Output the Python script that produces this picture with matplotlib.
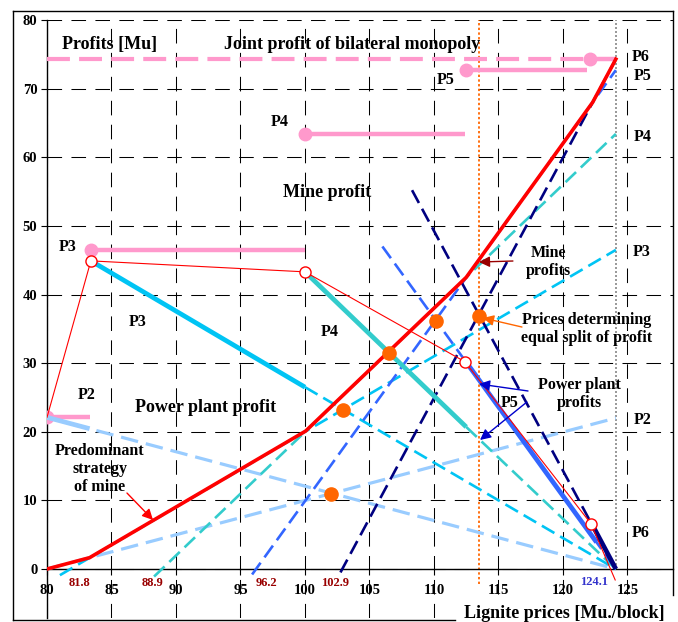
import matplotlib
matplotlib.use("Agg")
import matplotlib.pyplot as plt
from matplotlib.lines import Line2D

plt.rcParams['font.family'] = ['Liberation Serif', 'DejaVu Serif']
plt.rcParams['font.weight'] = 'bold'

# --- data -------------------------------------------------------------
strategies = ['P2', 'P3', 'P4', 'P5', 'P6']
colors = ['#99ccff', '#00c4f4', '#33cccc', '#3366ff', '#000080']

# mine profit lines (rising, dashed)
mine_x0 = [80.0, 81.0, 88.3, 95.9, 102.75]
mine_y0 = [0.0, -0.9, -1.1, -0.8, -0.5]
mine_x1 = [124.1, 124.1, 124.1, 124.1, 124.1]
mine_y1 = [22.0, 46.5, 63.4, 72.7, 74.3]

# power plant profit lines (falling, dashed)
pp_x0 = [80.0, 100.0, 112.5, 106.0, 108.3]
pp_y0 = [22.1, 26.5, 20.7, 47.0, 55.2]
pp_x1 = [124.1, 124.1, 124.1, 124.1, 124.1]
pp_y1 = [0.0, 0.0, 0.0, 0.0, 0.0]

# part of power plant line where the strategy is played (solid)
act_x0 = [80.0, 83.4, 100.0, 112.4, 122.2]
act_y0 = [22.1, 44.9, 43.3, 30.4, 6.7]
act_x1 = [83.3, 100.0, 112.5, 122.6, 124.1]
act_y1 = [20.45, 26.5, 20.7, 3.9, 0.0]

# strategy bands of mine (pink)
band_x0 = [80.0, 83.4, 100.0, 112.5, 122.1]
band_x1 = [83.3, 100.0, 112.4, 121.9, 124.1]
band_y = [22.1, 46.5, 63.4, 72.7, 74.3]
joint_profit = 74.3

# predominant strategy of mine (upper envelope)
env_x = [80.0, 83.3, 100.05, 112.5, 122.3, 124.1]
env_y = [0.0, 1.65, 20.1, 42.5, 68.0, 74.3]

# power plant profit along the mine strategy
ppres_x = [80.0, 83.4, 100.0, 112.4, 122.17, 124.05]
ppres_y = [22.1, 44.9, 43.3, 30.2, 6.6, -1.6]
circ_x = [83.4, 100.0, 112.4, 122.17]
circ_y = [44.9, 43.3, 30.2, 6.6]

# equal split of profit
split_x = [102.0, 102.95, 106.5, 110.15, 113.5]
split_y = [10.9, 23.1, 31.5, 36.2, 36.8]
split_price = 113.5
max_price = 124.1

# prices where mine profit is zero
zero_labels = ['81.8', '88.9', '96.2', '102.9']
zero_label_x = [82.5, 88.2, 97.05, 102.3]

# --- figure -----------------------------------------------------------
fig = plt.figure(figsize=(6.78, 6.22), dpi=100)
ax = fig.add_axes([47 / 678, 4 / 622, 626 / 678, 598 / 622])
ax.set_xlim(80, 128.53)
ax.set_ylim(-7.14, 80)

ax.spines['top'].set_visible(False)
ax.spines['right'].set_visible(False)
ax.spines['bottom'].set_position(('data', 0))
ax.spines['left'].set_linewidth(1.0)
ax.spines['bottom'].set_linewidth(1.0)

ax.set_xticks(range(80, 126, 5))
ax.set_yticks(range(0, 81, 10))
ax.tick_params(axis='x', direction='out', length=4, pad=7, labelsize=10.5)
ax.tick_params(axis='y', direction='out', length=4, pad=3, labelsize=10.5)
ax.grid(True, color='black', linewidth=0.75, linestyle=(0, (14, 9)))
ax.set_axisbelow(True)

dash = (0, (5.5, 2.5))

# joint profit & pink bands
ax.plot([80, band_x0[-1]], [joint_profit, joint_profit], color='#ff99cc',
        lw=3, linestyle=(0, (5.5, 2.2)), zorder=3)
for x0, x1, y in zip(band_x0, band_x1, band_y):
    ax.plot([x0, x1], [y, y], color='#ff99cc', lw=3.2, zorder=3,
            solid_capstyle='butt')
    ax.plot([x0], [y], 'o', color='#ff99cc', ms=9, zorder=4)

# reference verticals
ax.plot([split_price, split_price], [-2.2, 80], color='#ff6600', lw=1.3,
        linestyle=(0, (1.3, 1.3)), zorder=2)
ax.plot([max_price, max_price], [0, 80], color='#888888', lw=1.2,
        linestyle=(0, (1.2, 1.2)), zorder=2)

# mine and power plant lines
for i, c in enumerate(colors):
    lw = 2.3 if i == 0 else 1.9
    ax.plot([mine_x0[i], mine_x1[i]], [mine_y0[i], mine_y1[i]], color=c,
            lw=lw, linestyle=dash, zorder=4)
    ax.plot([pp_x0[i], pp_x1[i]], [pp_y0[i], pp_y1[i]], color=c,
            lw=lw, linestyle=dash, zorder=4)
    ax.plot([act_x0[i], act_x1[i]], [act_y0[i], act_y1[i]], color=c,
            lw=3.4, zorder=5, solid_capstyle='butt')

# predominant strategy of mine
ax.plot(env_x, env_y, color='red', lw=2.6, zorder=7)
ax.plot(ppres_x, ppres_y, color='red', lw=0.8, zorder=6)
ax.plot(circ_x, circ_y, 'o', ms=8, mfc='white', mec='red', mew=1,
        zorder=8)

# equal split points
ax.plot(split_x, split_y, 'o', color='#ff6600', ms=9.5, zorder=9)

# --- texts ------------------------------------------------------------
big = dict(fontsize=13, fontweight='bold')
mid = dict(fontsize=11.5, fontweight='bold')
ax.text(81.16, 76.5, 'Profits [Mu]', ha='left', va='center', **big)
ax.text(93.72, 76.5, 'Joint profit of bilateral monopoly', ha='left',
        va='center', **big)
ax.text(101.7, 54.8, 'Mine profit', ha='center', va='center', **big)
ax.text(92.3, 23.5, 'Power plant profit', ha='center', va='center', **big)

p_labels = [('P4', 98.0, 65.1), ('P5', 110.9, 71.3), ('P6', 126.05, 74.6),
            ('P5', 126.2, 71.8), ('P4', 126.2, 63.0), ('P3', 126.1, 46.2),
            ('P2', 126.2, 21.7), ('P6', 126.0, 5.2), ('P3', 81.6, 46.9),
            ('P2', 83.1, 25.4), ('P3', 87.05, 36.0), ('P4', 101.9, 34.5),
            ('P5', 115.9, 24.2)]
for s, x, y in p_labels:
    ax.text(x, y, s, ha='center', va='center', **mid)

ax.text(84.1, 14.6, 'Predominant\nstrategy\nof mine', ha='center',
        va='center', linespacing=1.15, **mid)
ax.text(118.84, 44.7, 'Mine\nprofits', ha='center', va='center',
        linespacing=1.15, **mid)
ax.text(121.86, 35.0, 'Prices determining\nequal split of profit',
        ha='center', va='center', linespacing=1.15, **mid)
ax.text(121.3, 25.5, 'Power plant\nprofits', ha='center', va='center',
        linespacing=1.15, **mid)

for s, x in zip(zero_labels, zero_label_x):
    ax.text(x, -2.05, s, ha='center', va='center', color='#990000',
            fontsize=9, fontweight='bold')
ax.text(122.4, -1.9, '124.1', ha='center', va='center', color='#3333cc',
        fontsize=9, fontweight='bold')

# arrows
arrows = [((86.2, 11.07), (88.22, 7.14), 'red'),
          ((116.12, 44.88), (113.49, 44.73), '#990000'),
          ((116.82, 35.26), (113.8, 36.58), '#ff6600'),
          ((117.29, 25.94), (113.49, 26.96), '#0000cc'),
          ((117.2, 24.33), (113.57, 18.8), '#0000cc')]
for start, end, c in arrows:
    ax.annotate('', xy=end, xytext=start, zorder=10,
                arrowprops=dict(arrowstyle='-|>', color=c, lw=1,
                                mutation_scale=16, shrinkA=0, shrinkB=0))

# outer frame
fig.add_artist(Line2D([13 / 678, 13 / 678], [1 - 620 / 622, 1 - 11 / 622],
                      transform=fig.transFigure, color='black', lw=1))
fig.add_artist(Line2D([13 / 678, 673 / 678], [1 - 11 / 622, 1 - 11 / 622],
                      transform=fig.transFigure, color='black', lw=1))
fig.add_artist(Line2D([673 / 678, 673 / 678], [1 - 595 / 622, 1 - 11 / 622],
                      transform=fig.transFigure, color='black', lw=1))
fig.add_artist(Line2D([13 / 678, 455 / 678], [1 - 620 / 622, 1 - 620 / 622],
                      transform=fig.transFigure, color='black', lw=1))

fig.text(464 / 678, 1 - 613 / 622, 'Lignite prices [Mu./block]', ha='left',
         va='center', fontsize=13, fontweight='bold',
         bbox=dict(facecolor='white', edgecolor='none', pad=1))

fig.savefig('out.png', dpi=100)
